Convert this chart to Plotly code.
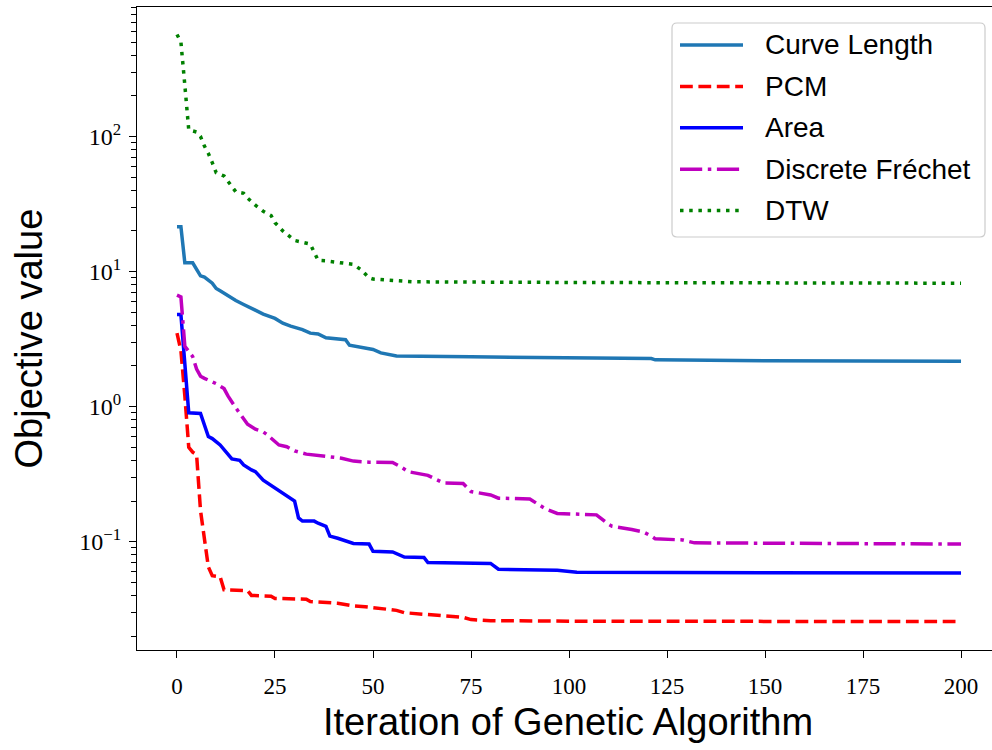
import plotly.graph_objects as go

# ---------------- data ----------------
series_names = ["Curve Length", "PCM", "Area", "Discrete Fréchet", "DTW"]

cl_iter = [0, 1, 2, 4, 6, 7, 9, 10, 11, 13, 15, 17, 19, 22, 25, 27, 29, 32, 34, 36, 38, 43, 44, 46, 48, 50, 52, 54, 56, 75, 100, 121, 122, 150, 200]
cl_val = [21.5, 21.5, 11.6, 11.6, 9.3, 9.1, 8.2, 7.5, 7.2, 6.6, 6.1, 5.7, 5.35, 4.85, 4.5, 4.15, 3.95, 3.72, 3.5, 3.45, 3.23, 3.13, 2.85, 2.78, 2.68, 2.65, 2.5, 2.44, 2.37, 2.34, 2.3, 2.27, 2.22, 2.19, 2.17]

pcm_iter = [0, 1, 2, 3, 4, 5, 6, 7, 8, 9, 11, 12, 18, 19, 24, 25, 33, 34, 41, 45, 48, 54, 56, 58, 64, 66, 73, 75, 80, 100, 200]
pcm_val = [3.5, 2.6, 1.2, 0.5, 0.46, 0.44, 0.17, 0.1, 0.065, 0.056, 0.055, 0.044, 0.0435, 0.04, 0.0395, 0.038, 0.0375, 0.036, 0.035, 0.0335, 0.033, 0.0315, 0.031, 0.0298, 0.029, 0.0285, 0.0275, 0.0265, 0.026, 0.0258, 0.0256]

area_iter = [0, 1, 3, 6, 8, 9, 11, 12, 14, 16, 17, 19, 20, 22, 24, 26, 28, 30, 31, 32, 35, 36, 38, 39, 41, 42, 45, 49, 50, 55, 58, 63, 64, 80, 82, 97, 102, 150, 200]
area_val = [4.8, 4.8, 0.9, 0.89, 0.6, 0.58, 0.52, 0.48, 0.41, 0.40, 0.37, 0.34, 0.33, 0.285, 0.26, 0.24, 0.22, 0.2, 0.15, 0.142, 0.142, 0.137, 0.13, 0.11, 0.106, 0.104, 0.097, 0.096, 0.085, 0.084, 0.077, 0.0765, 0.07, 0.069, 0.0625, 0.0615, 0.0594, 0.0588, 0.0586]

fr_iter = [0, 1, 2, 4, 5, 6, 7, 10, 12, 13, 15, 17, 18, 20, 22, 23, 25, 26, 28, 30, 33, 37, 42, 45, 49, 55, 57, 59, 64, 66, 68, 73, 75, 80, 82, 90, 92, 94, 97, 107, 110, 111, 116, 119, 121, 122, 129, 132, 200]
fr_val = [6.7, 6.5, 2.8, 2.35, 1.9, 1.68, 1.62, 1.48, 1.36, 1.2, 0.98, 0.82, 0.74, 0.68, 0.65, 0.62, 0.55, 0.52, 0.505, 0.47, 0.445, 0.43, 0.415, 0.395, 0.388, 0.386, 0.36, 0.33, 0.31, 0.29, 0.272, 0.27, 0.235, 0.222, 0.21, 0.207, 0.19, 0.175, 0.162, 0.158, 0.135, 0.13, 0.123, 0.118, 0.11, 0.105, 0.103, 0.098, 0.096]

dtw_iter = [0, 1, 2, 3, 5, 6, 7, 8, 9, 10, 12, 13, 15, 17, 18, 20, 22, 24, 25, 27, 28, 30, 34, 35, 36, 38, 45, 47, 49, 50, 54, 60, 100, 200]
dtw_val = [570, 500, 240, 112, 108, 100, 85, 75, 64, 54, 51, 47, 39, 38, 35, 31, 28, 26, 23, 20, 19, 17, 16, 14, 12.1, 12, 11.3, 10.3, 9.0, 8.8, 8.6, 8.4, 8.3, 8.2]

x_ticks = [0, 25, 50, 75, 100, 125, 150, 175, 200]
y_ticks = [0.1, 1, 10, 100]
y_tick_text = ["10<sup>−1</sup>", "10<sup>0</sup>", "10<sup>1</sup>", "10<sup>2</sup>"]

x_title = "Iteration of Genetic Algorithm"
y_title = "Objective value"

# ---------------- styles ----------------
LW = 3.5
styles = [
    dict(color="#1f77b4", dash="solid"),
    dict(color="#ff0000", dash="12.8px,5.6px"),
    dict(color="#0000ff", dash="solid"),
    dict(color="#bf00bf", dash="22.2px,5.6px,3.5px,5.6px"),
    dict(color="#008000", dash="3.5px,5.7px"),
]
xs = [cl_iter, pcm_iter, area_iter, fr_iter, dtw_iter]
ys = [cl_val, pcm_val, area_val, fr_val, dtw_val]

fig = go.Figure()
for name, x, y, st in zip(series_names, xs, ys, styles):
    fig.add_trace(go.Scatter(x=x, y=y, mode="lines", name=name,
                             line=dict(color=st["color"], width=LW, dash=st["dash"]),
                             showlegend=False))

# ---------------- layout geometry ----------------
W, H = 992, 750
L, T, R, B = 137, 7, 0, 100
PW = W - L - R
PH = H - T - B


def px(xp):
    return (xp - L) / PW


def py(yp):
    return (H - B - yp) / PH


minor_vals = []
for d in [-2, -1, 0, 1, 2]:
    for m in range(2, 10):
        minor_vals.append(m * 10 ** d)

fig.update_layout(
    width=W, height=H,
    margin=dict(l=L, r=R, t=T, b=B),
    paper_bgcolor="white", plot_bgcolor="white",
    font=dict(family="Liberation Sans", color="black"),
    xaxis=dict(range=[-10.2, 207.9], tickvals=x_ticks, ticks="outside", ticklen=7,
               tickwidth=1.2, tickcolor="black", showline=True, linecolor="black",
               linewidth=1.2, mirror=True, showgrid=False, zeroline=False,
               ticklabelstandoff=8,
               tickfont=dict(family="Liberation Serif", size=23, color="black")),
    yaxis=dict(type="log", range=[-1.802, 2.959], tickvals=y_ticks, ticktext=y_tick_text,
               ticks="outside", ticklen=7, tickwidth=1.2, tickcolor="black",
               showline=True, linecolor="black", linewidth=1.2, mirror=False,
               showgrid=False, zeroline=False, ticklabelstandoff=3,
               tickfont=dict(family="Liberation Serif", size=24, color="black"),
               minor=dict(tickvals=minor_vals, ticks="outside", ticklen=4.5,
                          tickwidth=1, tickcolor="black", showgrid=False)),
)

annotations = [
    dict(text=x_title, x=px(568), y=py(722), xref="paper", yref="paper",
         xanchor="center", yanchor="middle", showarrow=False,
         font=dict(family="Liberation Sans", size=38, color="black")),
    dict(text=y_title, x=px(28), y=py(338.5), xref="paper", yref="paper",
         xanchor="center", yanchor="middle", showarrow=False, textangle=-90,
         font=dict(family="Liberation Sans", size=38, color="black")),
]

# ---------------- manual legend ----------------
bx0, by0, bx1, by1, rad = 672, 23, 985, 237, 5
rx, ry = rad / PW, rad / PH
X0, X1 = px(bx0), px(bx1)
Y0, Y1 = py(by0), py(by1)  # Y0 top, Y1 bottom
path = (f"M {X0+rx},{Y0} L {X1-rx},{Y0} Q {X1},{Y0} {X1},{Y0-ry} "
        f"L {X1},{Y1+ry} Q {X1},{Y1} {X1-rx},{Y1} L {X0+rx},{Y1} "
        f"Q {X0},{Y1} {X0},{Y1+ry} L {X0},{Y0-ry} Q {X0},{Y0} {X0+rx},{Y0} Z")
shapes = [dict(type="path", path=path, xref="paper", yref="paper",
               fillcolor="rgba(255,255,255,0.8)", line=dict(color="#cccccc", width=1.2))]

row_y = [45 + i * 41.4 for i in range(5)]
for name, st, ry_ in zip(series_names, styles, row_y):
    shapes.append(dict(type="line", xref="paper", yref="paper",
                       x0=px(680), x1=px(743), y0=py(ry_), y1=py(ry_),
                       line=dict(color=st["color"], width=LW, dash=st["dash"])))
    annotations.append(dict(text=name, x=px(763), y=py(ry_), xref="paper", yref="paper",
                            xanchor="left", yanchor="middle", showarrow=False,
                            font=dict(family="Liberation Sans", size=28, color="black")))

fig.update_layout(shapes=shapes, annotations=annotations)

fig.write_html("out.html")
